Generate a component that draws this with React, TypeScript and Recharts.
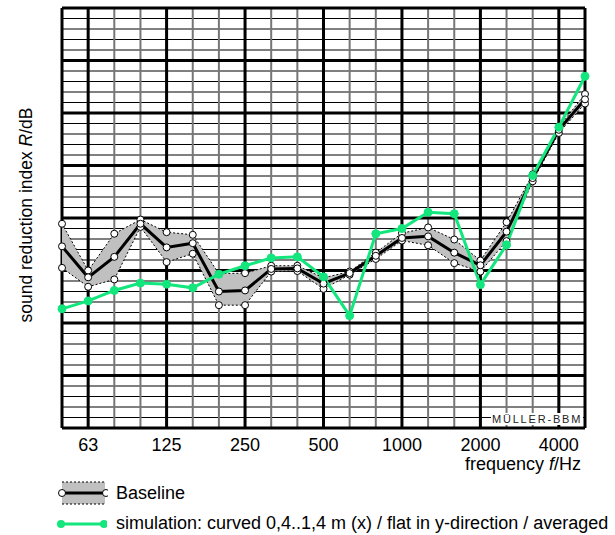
import React from "react";
import { ComposedChart, Area, Line, XAxis, YAxis, CartesianGrid } from "recharts";

// third-octave band centre frequencies, Hz
const bands = [
  "50", "63", "80", "100", "125", "160", "200", "250", "315", "400", "500",
  "630", "800", "1000", "1250", "1600", "2000", "2500", "3150", "4000", "5000",
];

// baseline spread (min / mean / max), dB
const baselineMax = [
  38.9, 30.0, 37.0, 39.7, 37.3, 36.8, 29.4, 29.5, 30.9, 30.9, 28.6,
  29.8, 33.4, 37.1, 38.2, 35.9, 31.9, 39.2, 48.3, 57.3, 63.6,
];
const baselineMean = [
  34.6, 28.7, 32.6, 38.9, 34.4, 35.2, 26.0, 26.2, 30.3, 30.4, 27.5,
  29.5, 32.8, 36.2, 36.5, 33.4, 31.0, 37.4, 47.6, 56.8, 62.6,
];
const baselineMin = [
  30.5, 26.9, 28.3, 38.3, 31.6, 33.2, 23.4, 23.4, 29.8, 29.9, 26.5,
  29.2, 32.2, 35.7, 34.8, 31.4, 29.8, 35.6, 47.0, 56.2, 61.8,
];

// simulation: curved 0,4..1,4 m (x) / flat in y, averaged
const simulation = [
  22.7, 24.2, 26.2, 27.6, 27.4, 26.7, 29.3, 30.9, 32.4, 32.6, 28.8,
  21.4, 37.0, 38.0, 41.1, 40.8, 27.3, 34.9, 48.1, 57.3, 67.0,
];

// axis ticks (band indices / dB)
const octaveTicks = [1, 4, 7, 10, 13, 16, 19];
const octaveGridTicks = [0, 1, 4, 7, 10, 13, 16, 19, 20];
const bandTicks = bands.map((_, i) => i);
const dbMajorTicks = [0, 10, 20, 30, 40, 50, 60, 70, 80];
const dbMinorTicks = Array.from({ length: 41 }, (_, i) => i * 2);

const data = bands.map((band, i) => ({
  idx: i,
  band,
  min: baselineMin[i],
  mean: baselineMean[i],
  max: baselineMax[i],
  range: [baselineMin[i], baselineMax[i]],
  sim: simulation[i],
}));

const FONT = '"Liberation Sans", Arial, sans-serif';
const GREEN = "#12e67c";
const BAND_GREY = "#c0c0c0";

const whiteDot = { r: 3.5, fill: "#fff", stroke: "#000", strokeWidth: 1, strokeDasharray: "none" };

function BaselineSymbol() {
  return (
    <svg width={50} height={24} style={{ display: "block" }}>
      <rect x={4} y={1} width={43} height={22} fill={BAND_GREY} />
      <line x1={4} y1={1} x2={47} y2={1} stroke="#000" strokeDasharray="2 2" />
      <line x1={4} y1={23} x2={47} y2={23} stroke="#000" strokeDasharray="2 2" />
      <line x1={4} y1={12} x2={48} y2={12} stroke="#000" strokeWidth={3} />
      <circle cx={4} cy={12} r={3.5} fill="#fff" stroke="#000" />
      <circle cx={48} cy={12} r={3.5} fill="#fff" stroke="#000" />
    </svg>
  );
}

function SimulationSymbol() {
  return (
    <svg width={50} height={12} style={{ display: "block" }}>
      <line x1={4} y1={6} x2={47} y2={6} stroke={GREEN} strokeWidth={3} />
      <circle cx={4} cy={6} r={4} fill={GREEN} />
      <circle cx={47} cy={6} r={4} fill={GREEN} />
    </svg>
  );
}

export default function App() {
  return (
    <div
      style={{
        position: "absolute",
        left: 0,
        top: 0,
        width: 615,
        height: 535,
        background: "#fff",
        fontFamily: FONT,
        color: "#000",
      }}
    >
      <ComposedChart
        width={615}
        height={535}
        data={data}
        margin={{ top: 8, right: 30, bottom: 77, left: 62 }}
      >
        <XAxis xAxisId="xMinor" type="number" domain={[0, 20]} ticks={bandTicks} interval={0} hide />
        <XAxis xAxisId="xMajor" type="number" domain={[0, 20]} ticks={octaveGridTicks} interval={0} hide />
        <XAxis
          xAxisId="freq"
          dataKey="idx"
          type="number"
          domain={[0, 20]}
          ticks={octaveTicks}
          interval={0}
          tickFormatter={(i) => bands[i]}
          axisLine={false}
          tickLine={false}
          tickMargin={4}
          height={30}
          tick={{ fill: "#000", fontSize: 18, fontFamily: FONT }}
        />
        <YAxis yAxisId="db" type="number" domain={[0, 80]} ticks={dbMajorTicks} interval={0} hide />

        {/* 2 dB lines */}
        <CartesianGrid
          xAxisId="xMinor"
          yAxisId="db"
          vertical={false}
          horizontalValues={dbMinorTicks}
          stroke="#000"
          strokeWidth={1}
        />
        {/* third-octave lines */}
        <CartesianGrid xAxisId="xMinor" yAxisId="db" horizontal={false} stroke="#767676" strokeWidth={2} />
        {/* 10 dB and octave lines, frame */}
        <CartesianGrid xAxisId="xMajor" yAxisId="db" stroke="#000" strokeWidth={3} />

        <Area
          xAxisId="freq"
          yAxisId="db"
          type="linear"
          dataKey="range"
          stroke="none"
          fill={BAND_GREY}
          fillOpacity={1}
          dot={false}
          activeDot={false}
          isAnimationActive={false}
        />
        <Line
          xAxisId="freq"
          yAxisId="db"
          type="linear"
          dataKey="min"
          stroke="#000"
          strokeWidth={1}
          strokeDasharray="2 2"
          dot={whiteDot}
          activeDot={false}
          isAnimationActive={false}
        />
        <Line
          xAxisId="freq"
          yAxisId="db"
          type="linear"
          dataKey="max"
          stroke="#000"
          strokeWidth={1}
          strokeDasharray="2 2"
          dot={whiteDot}
          activeDot={false}
          isAnimationActive={false}
        />
        <Line
          xAxisId="freq"
          yAxisId="db"
          type="linear"
          dataKey="mean"
          stroke="#000"
          strokeWidth={3}
          dot={whiteDot}
          activeDot={false}
          isAnimationActive={false}
        />
        <Line
          xAxisId="freq"
          yAxisId="db"
          type="linear"
          dataKey="sim"
          stroke={GREEN}
          strokeWidth={3}
          dot={{ r: 4, fill: GREEN, stroke: GREEN, strokeWidth: 1 }}
          activeDot={false}
          isAnimationActive={false}
        />
      </ComposedChart>

      {/* watermark */}
      <div
        style={{
          position: "absolute",
          left: 491,
          top: 413,
          fontSize: 11,
          letterSpacing: 1.8,
          lineHeight: "12px",
          color: "#222",
          background: "#fff",
          padding: "0 1px",
        }}
      >
        MÜLLER-BBM
      </div>

      {/* y axis title */}
      <div
        style={{
          position: "absolute",
          left: 26,
          top: 215,
          transform: "translate(-50%, -50%) rotate(-90deg)",
          whiteSpace: "nowrap",
          fontSize: 17.5,
        }}
      >
        sound reduction index <i>R</i>/dB
      </div>

      {/* x axis title */}
      <div
        style={{
          position: "absolute",
          left: 465,
          top: 454,
          whiteSpace: "nowrap",
          fontSize: 18,
        }}
      >
        frequency <i>f</i>/Hz
      </div>

      {/* legend */}
      <div style={{ position: "absolute", left: 58, top: 481, display: "flex", alignItems: "center" }}>
        <BaselineSymbol />
        <span style={{ fontSize: 18, marginLeft: 8 }}>Baseline</span>
      </div>
      <div style={{ position: "absolute", left: 57, top: 513, display: "flex", alignItems: "center" }}>
        <SimulationSymbol />
        <span style={{ fontSize: 18, marginLeft: 9, whiteSpace: "nowrap" }}>
          simulation: curved 0,4..1,4 m (x) / flat in y-direction / averaged
        </span>
      </div>
    </div>
  );
}
